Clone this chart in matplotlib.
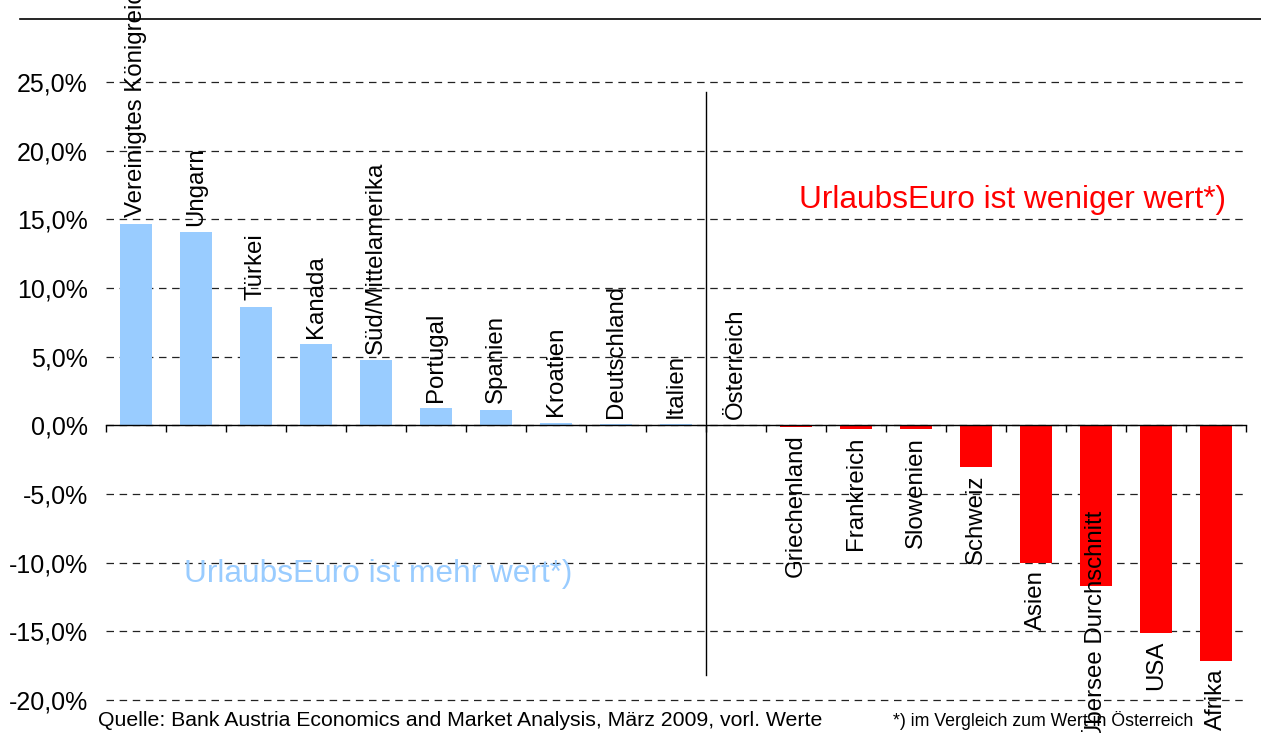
import matplotlib
matplotlib.use("Agg")
import matplotlib.pyplot as plt
from matplotlib.lines import Line2D
from matplotlib.ticker import FuncFormatter, FixedLocator

plt.rcParams['font.family'] = ['Liberation Sans', 'DejaVu Sans']

categories = ["Vereinigtes Königreich", "Ungarn", "Türkei", "Kanada", "Süd/Mittelamerika",
              "Portugal", "Spanien", "Kroatien", "Deutschland", "Italien", "Österreich",
              "Griechenland", "Frankreich", "Slowenien", "Schweiz", "Asien",
              "Übersee Durchschnitt", "USA", "Afrika"]
values = [14.7, 14.1, 8.65, 5.9, 4.75, 1.25, 1.15, 0.2, 0.12, 0.12, 0.0,
          -0.1, -0.25, -0.3, -3.0, -10.0, -11.7, -15.1, -17.2]
yticks = [-20, -15, -10, -5, 0, 5, 10, 15, 20, 25]

POS_COLOR = "#99CCFF"
NEG_COLOR = "#FF0000"

fig = plt.figure(figsize=(12.61, 7.33), dpi=100)
ax = fig.add_axes([106/1261, 29/733, (1246-106)/1261, (704-19)/733])

x = list(range(len(categories)))
colors = [POS_COLOR if v >= 0 else NEG_COLOR for v in values]
ax.bar(x, values, width=0.53, color=colors, zorder=3)

ax.set_xlim(-0.5, len(categories) - 0.5)
ax.set_ylim(-20.3, 29.6)

for s in ['top', 'right', 'left']:
    ax.spines[s].set_visible(False)
ax.spines['bottom'].set_position(('data', 0))
ax.spines['bottom'].set_color('black')
ax.spines['bottom'].set_linewidth(1.0)
ax.spines['bottom'].set_zorder(4)

ax.xaxis.set_major_locator(FixedLocator([i - 0.5 for i in range(len(categories) + 1)]))
ax.tick_params(axis='x', direction='out', length=5, width=1, labelbottom=False)

ax.set_yticks(yticks)
ax.yaxis.set_major_formatter(FuncFormatter(lambda v, p: f"{v:.1f}%".replace('.', ',')))
ax.tick_params(axis='y', length=0, pad=13, labelsize=18)
ax.grid(axis='y', linestyle=(0, (6, 4.5)), color='#222222', linewidth=0.9, zorder=1)

# category labels
for i, (c, v) in enumerate(zip(categories, values)):
    if v >= 0:
        ax.text(i, v + 0.45, c, rotation=90, ha='center', va='bottom', fontsize=17.3, zorder=5,
                clip_on=False)
    else:
        ytop = v - 0.55
        if c == "Übersee Durchschnitt":
            ytop = -6.25
        ax.text(i, ytop, c, rotation=90, ha='center', va='top', fontsize=17.3, zorder=5,
                clip_on=False)

# divider
ax.plot([9.5, 9.5], [-18.2, 24.3], color='black', linewidth=1.0, zorder=4)

ax.text(11.05, 16.4, "UrlaubsEuro ist weniger wert*)", color=NEG_COLOR, fontsize=22.8,
        ha='left', va='center', zorder=5)
ax.text(0.8, -10.85, "UrlaubsEuro ist mehr wert*)", color=POS_COLOR, fontsize=22.8,
        ha='left', va='center', zorder=5)

# top border line
fig.add_artist(Line2D([20/1261, 1.0], [1 - 19/733, 1 - 19/733], color='black', linewidth=1.2))

fig.text(98/1261, 1 - 720/733, "Quelle: Bank Austria Economics and Market Analysis, März 2009, vorl. Werte",
         fontsize=15.3, ha='left', va='center')
fig.text(893/1261, 1 - 721/733, "*) im Vergleich zum Wert in Österreich",
         fontsize=12.8, ha='left', va='center')

fig.savefig("out.png", dpi=100)
